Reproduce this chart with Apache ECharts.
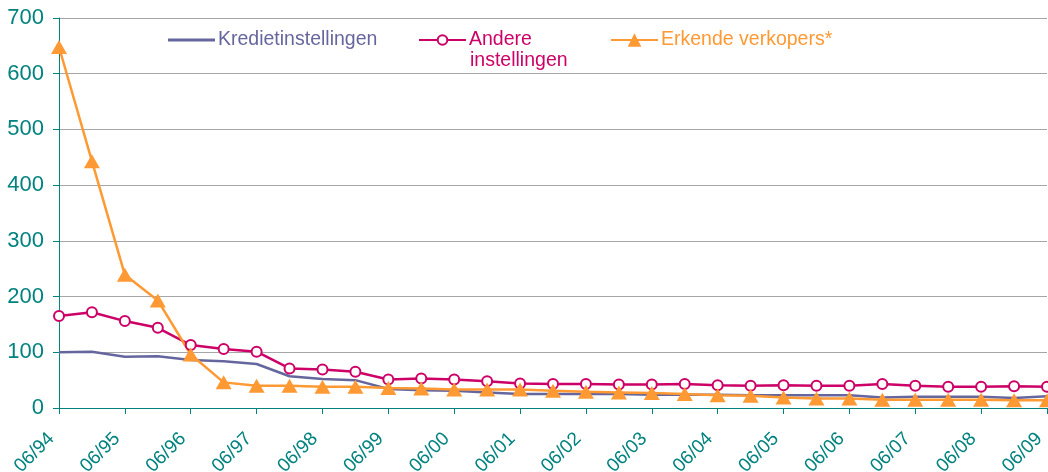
<!DOCTYPE html>
<html>
<head>
<meta charset="utf-8">
<script src="https://cdn.jsdelivr.net/npm/echarts@6/dist/echarts.min.js"></script>
<style>
html,body{margin:0;padding:0;background:#fff;}
#chart{width:1048px;height:472px;}
</style>
</head>
<body>
<div id="chart"></div>
<script>
const categories = ['06/94','12/94','06/95','12/95','06/96','12/96','06/97','12/97','06/98','12/98',
  '06/99','12/99','06/00','12/00','06/01','12/01','06/02','12/02','06/03','12/03',
  '06/04','12/04','06/05','12/05','06/06','12/06','06/07','12/07','06/08','12/08','06/09'];
const kredietinstellingen = [100,101,92,93,86,84,79,57,52,50,34,32,31,28,25,25,25,25,24,24,24,23,23,23,23,19,20,20,20,18,21];
const andereInstellingen = [165,172,156,144,113,106,101,71,69,65,51,53,51,48,44,43,43,42,42,43,41,40,41,40,40,43,40,38,38,39,38];
const erkendeVerkopers = [648,443,239,193,96,46,40,40,38,38,36,35,33,33,33,31,29,28,27,25,23,22,19,17,17,15,15,15,15,14,14];
const yTicks = [0,100,200,300,400,500,600,700];

const teal = '#00827F';
const cBlue = '#66669E';
const cMag = '#CC0066';
const cOra = '#FF9933';
const font = 'Liberation Sans, Arial, sans-serif';

const chart = echarts.init(document.getElementById('chart'));
function legendAt(left, name, color, extra) {
  return Object.assign({
    orient: 'horizontal', top: 30, left: left, padding: 0, itemGap: 0,
    itemWidth: 47, itemHeight: 14,
    data: [name],
    textStyle: {fontFamily: font, fontSize: 19.5, color: color, padding: [0,0,0,-2]}
  }, extra || {});
}
chart.setOption({
  animation: false,
  grid: {left: 59, right: 1, top: 18, bottom: 64, containLabel: false, outerBoundsMode: 'none'},
  legend: [
    legendAt(168, 'Kredietinstellingen', cBlue, {icon: 'rect', itemHeight: 3}),
    legendAt(418, 'Andere instellingen', cMag, {itemHeight: 12, formatter: () => 'Andere'}),
    legendAt(610, 'Erkende verkopers*', cOra, {itemHeight: 17})
  ],
  graphic: [{
    type: 'text', left: 470, top: 51,
    style: {text: 'instellingen', fill: cMag, font: '19.5px ' + font}
  }],
  xAxis: {
    type: 'category', data: categories, boundaryGap: false,
    axisLine: {lineStyle: {color: teal, width: 1}},
    axisTick: {show: true, interval: 1, length: 6, lineStyle: {color: teal}},
    axisLabel: {interval: 1, rotate: 45, margin: 20, padding: [0, 11, 0, 0],
      color: teal, fontFamily: font, fontSize: 19},
    splitLine: {show: false}
  },
  yAxis: {
    type: 'value', min: 0, max: 700, interval: 100,
    axisLine: {show: true, lineStyle: {color: teal, width: 1}},
    axisTick: {show: true, length: 6, lineStyle: {color: teal}},
    axisLabel: {margin: 15, color: teal, fontFamily: font, fontSize: 22,
      formatter: v => yTicks.includes(v) ? String(v) : ''},
    splitLine: {show: true, lineStyle: {color: '#A6A6A6', width: 1}}
  },
  series: [
    {name: 'Kredietinstellingen', type: 'line', data: kredietinstellingen, symbol: 'none',
     lineStyle: {color: cBlue, width: 2.5}, itemStyle: {color: cBlue}},
    {name: 'Andere instellingen', type: 'line', data: andereInstellingen, symbol: 'emptyCircle', symbolSize: 10,
     lineStyle: {color: cMag, width: 2.5}, itemStyle: {color: cMag, borderColor: cMag, borderWidth: 2}},
    {name: 'Erkende verkopers*', type: 'line', data: erkendeVerkopers, symbol: 'triangle', symbolSize: [16, 14],
     lineStyle: {color: cOra, width: 2.5}, itemStyle: {color: cOra}}
  ]
});
</script>
</body>
</html>
